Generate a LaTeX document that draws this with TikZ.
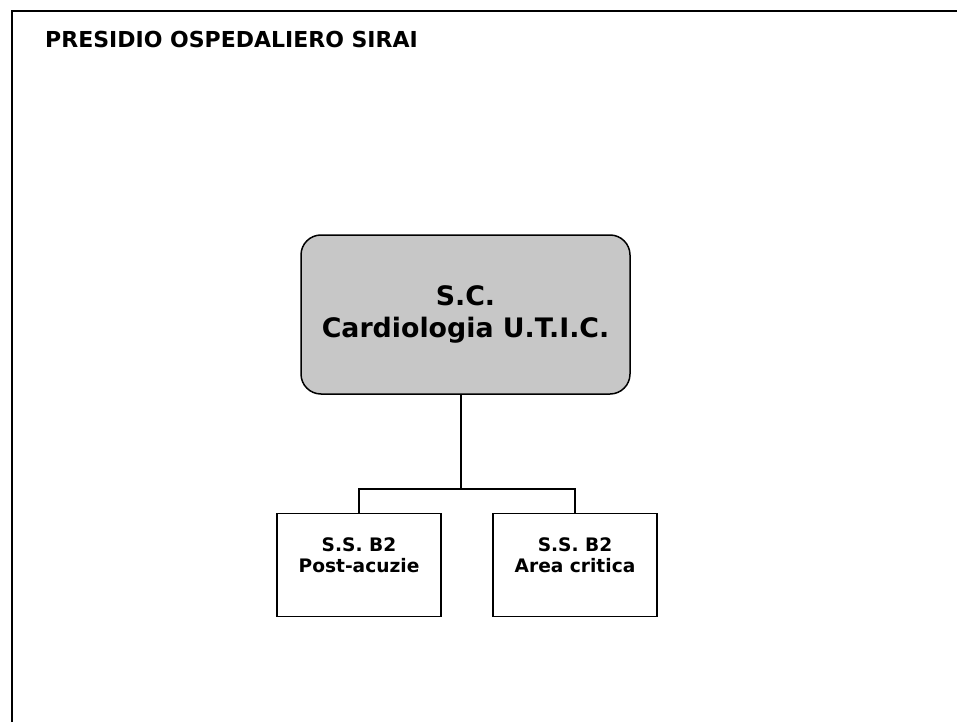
\documentclass[tikz,border=0pt]{standalone}
\usepackage{fontspec}
\setmainfont{DejaVu Sans}
\usetikzlibrary{positioning}

\begin{document}
\begin{tikzpicture}[x=1pt, y=-1pt,
node distance = 4mm,
  TOP/.style = {draw, line width=1.5pt, rounded corners=20pt,
                fill=black!22, minimum width=329pt, minimum height=159pt,
                align=center, inner sep=0pt,
                font=\bfseries\fontsize{26.8}{32}\selectfont},
  SUB/.style = {draw, line width=1.4pt, minimum width=164pt,
                minimum height=103pt, inner sep=0pt, outer sep=0pt},
  SUBT/.style = {align=center, inner sep=0pt, anchor=north,
                 font=\bfseries\fontsize{18.6}{21}\selectfont},
  LINK/.style = {line width=2pt},
  FRM/.style = {line width=2pt}
                    ]
\useasboundingbox (0,0) rectangle (957,722);
% frame
\draw[FRM] (12,722) -- (12,11) -- (957,11);
% title
\node (title) [anchor=base west, inner sep=0pt,
               font=\bfseries\fontsize{22}{26}\selectfont]
      at (45,48) {PRESIDIO OSPEDALIERO SIRAI};
% top box
\node (cardio) [TOP] at (465.5,314.5) {S.C.\\Cardiologia U.T.I.C.};
% sub boxes
\node (post) [SUB, below=119pt of cardio.south, xshift=-106.5pt] {};
\node (crit) [SUB, below=119pt of cardio.south, xshift=109.5pt] {};
\node (postT) [SUBT, below=24pt of post.north] {S.S. B2\\Post-acuzie};
\node (critT) [SUBT, below=24pt of crit.north] {S.S. B2\\Area critica};
% connectors
\coordinate (fork) at ([xshift=-4.5pt, yshift=-94pt]cardio.south);
\draw[LINK] ([xshift=-4.5pt]cardio.south) -- (fork);
\draw[LINK] (post.north) |- (fork) -| (crit.north);
\end{tikzpicture}
\end{document}
